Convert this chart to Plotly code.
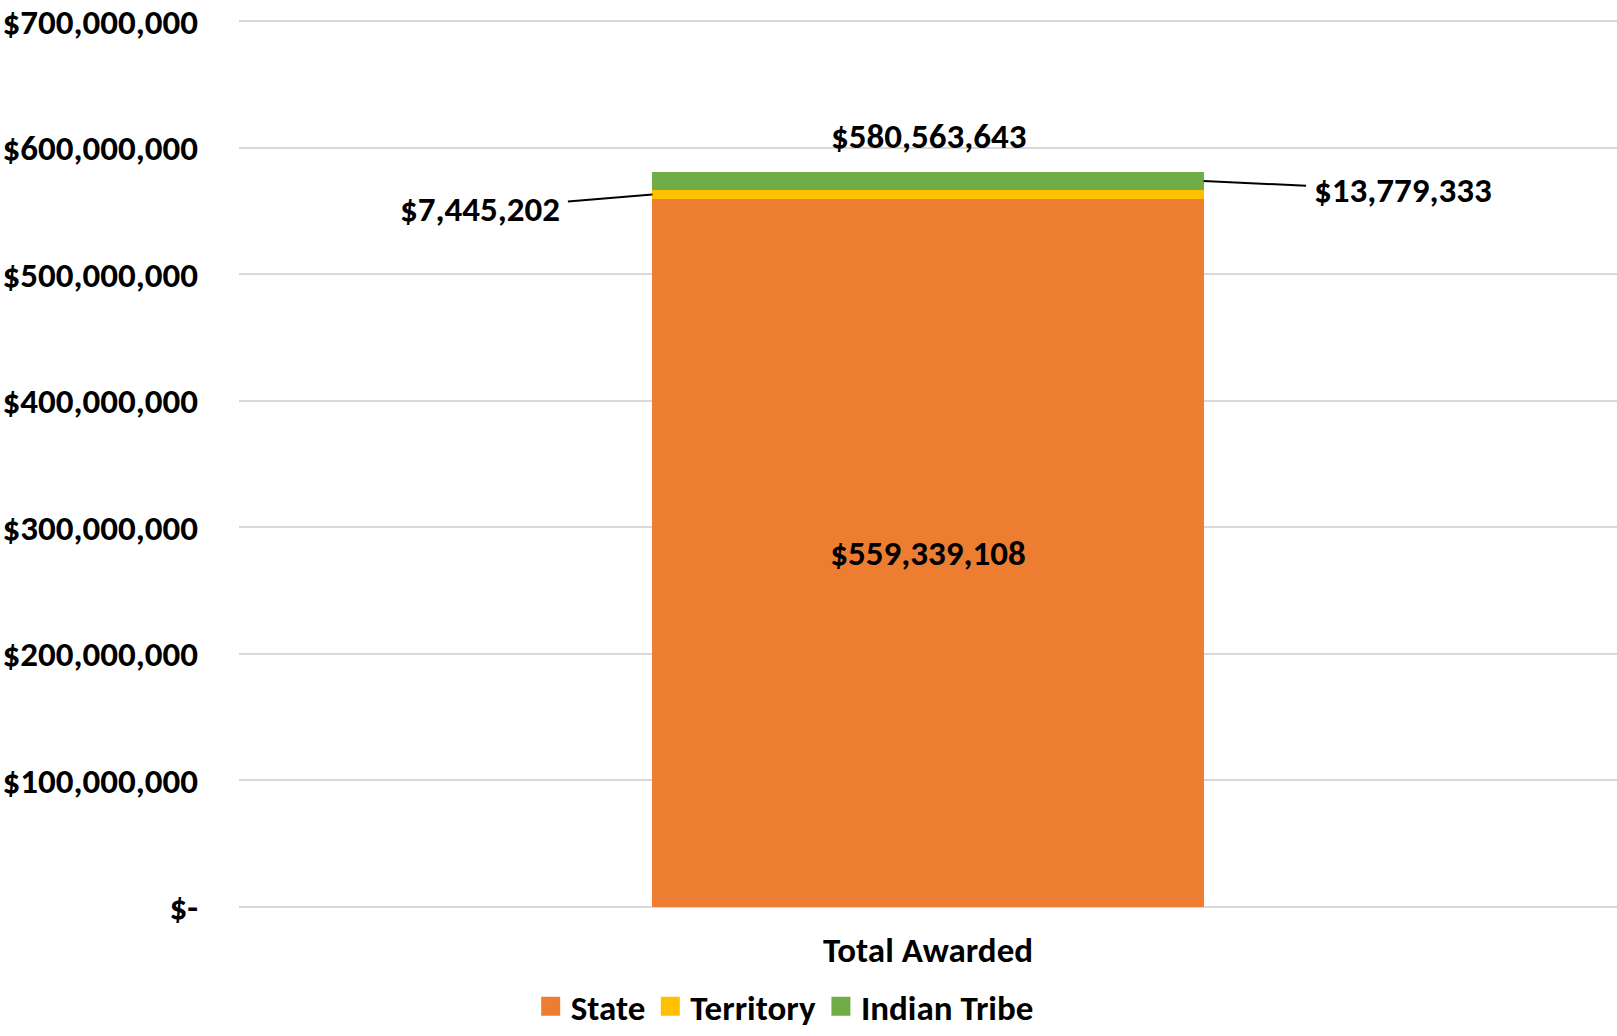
import plotly.graph_objects as go

categories = ["Total Awarded"]
series_names = ["State", "Territory", "Indian Tribe"]
series_values = {
    "State": [559339108],
    "Territory": [7445202],
    "Indian Tribe": [13779333],
}
series_colors = {"State": "#ED7D31", "Territory": "#FFC000", "Indian Tribe": "#70AD47"}
tick_values = [0, 100000000, 200000000, 300000000, 400000000, 500000000, 600000000, 700000000]

FONT = "Carlito, Calibri, Liberation Sans, Arial, sans-serif"
SIZE = 35


def money(v):
    return "$-" if v == 0 else f"${v:,.0f}"


def tfont(size=SIZE):
    return dict(family=FONT, size=size, color="black", weight="bold")


tick_text = [money(v) for v in tick_values]

fig = go.Figure()
for name in series_names:
    vals = series_values[name]
    fig.add_trace(go.Bar(
        x=categories,
        y=vals,
        name=name,
        showlegend=False,
        marker=dict(color=series_colors[name], line=dict(width=0)),
        text=[money(v) for v in vals] if name == "State" else None,
        textposition="inside" if name == "State" else "none",
        insidetextanchor="middle",
        textfont=tfont(),
        hoverinfo="skip",
    ))
    # legend entry with a larger square swatch
    fig.add_trace(go.Scatter(
        x=categories,
        y=[None],
        mode="markers",
        name=name,
        marker=dict(symbol="square", size=16, color=series_colors[name],
                    line=dict(width=3, color=series_colors[name])),
        hoverinfo="skip",
    ))

state = series_values["State"][0]
territory = series_values["Territory"][0]
tribe = series_values["Indian Tribe"][0]
total = state + territory + tribe
half_bar = 0.2

annotations = [
    dict(x=0, y=total, xref="x", yref="y", text=money(total), showarrow=False,
         yanchor="middle", yshift=36, font=tfont()),
    dict(x=-half_bar, y=state + territory / 2, xref="x", yref="y", text=money(territory),
         showarrow=True, arrowhead=0, arrowwidth=2, arrowcolor="black", ax=-172, ay=14,
         startstandoff=6, font=tfont()),
    dict(x=half_bar, y=state + territory + tribe / 2, xref="x", yref="y", text=money(tribe),
         showarrow=True, arrowhead=0, arrowwidth=2, arrowcolor="black", ax=199, ay=9,
         startstandoff=6, font=tfont()),
]

fig.update_layout(
    width=1617,
    height=1036,
    barmode="stack",
    bargap=0.6,
    plot_bgcolor="white",
    paper_bgcolor="white",
    margin=dict(l=239, r=0, t=20, b=129, autoexpand=False),
    font=tfont(),
    annotations=annotations,
    legend=dict(orientation="h", x=0.396, xanchor="center", y=-0.1455, yanchor="bottom",
                font=tfont(), traceorder="normal", itemsizing="trace"),
    showlegend=True,
)
fig.update_yaxes(
    range=[0, 701000000],
    tickvals=tick_values,
    ticktext=tick_text,
    showgrid=True,
    gridcolor="#D9D9D9",
    gridwidth=2,
    zeroline=True,
    zerolinecolor="#D9D9D9",
    zerolinewidth=2,
    showline=False,
    ticks="",
    automargin=False,
    ticklabelstandoff=40,
    tickfont=tfont(),
)
fig.update_xaxes(
    range=[-0.5, 0.5],
    showgrid=False,
    showline=False,
    ticks="",
    automargin=False,
    ticklabelstandoff=19,
    tickfont=tfont(),
)

# drop the browser's default body margin so the figure sits flush in the window
fig.write_html(
    "out.html",
    config={"displayModeBar": False},
    post_script="document.body.style.margin='0';document.body.style.overflow='hidden';",
)
